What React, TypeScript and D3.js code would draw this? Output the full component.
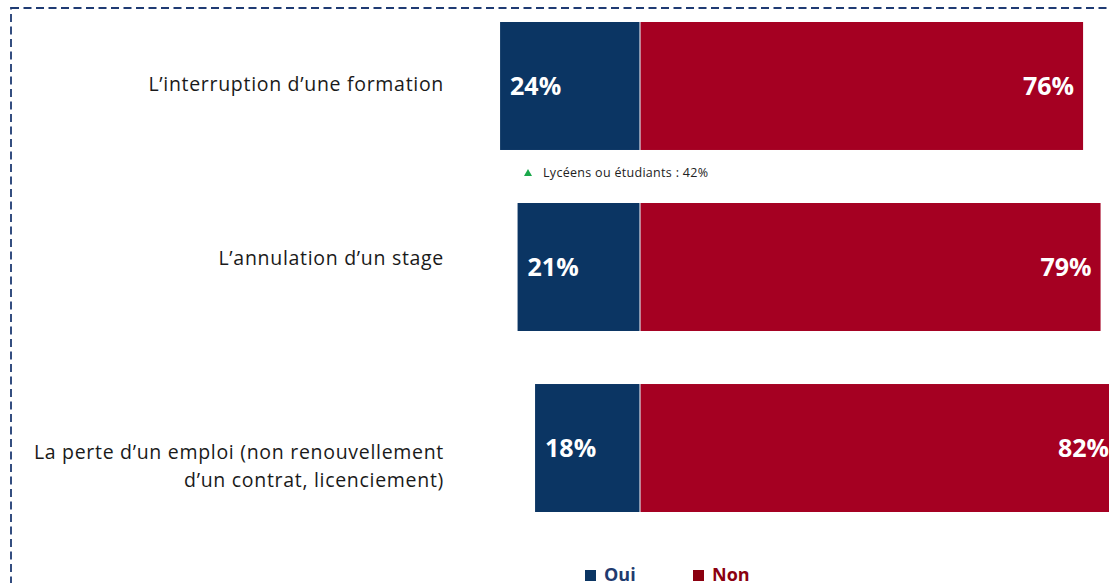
import React from "react";
import * as d3 from "d3";

const categories: string[][] = [
  ["L’interruption d’une formation"],
  ["L’annulation d’un stage"],
  ["La perte d’un emploi (non renouvellement", "d’un contrat, licenciement)"],
];
const oui: number[] = [24, 21, 18];
const non: number[] = [76, 79, 82];
const seriesNames: string[] = ["Oui", "Non"];
const noteText = "Lycéens ou étudiants : 42%";

const W = 1109;
const H = 583;
const NAVY = "#0b3563";
const RED = "#a50022";

export default function App() {
  const anchor = 640;
  const x = d3.scaleLinear().domain([0, 100]).range([0, 583]);
  const y = d3
    .scaleBand<number>()
    .domain(d3.range(categories.length))
    .range([22, 512])
    .paddingInner(0.293)
    .paddingOuter(0);
  const bw = y.bandwidth();
  const labelOffsets = [-2, -9, 18];
  const font = "'Open Sans', sans-serif";

  return (
    <svg
      width={W}
      height={H}
      style={{ position: "absolute", left: 0, top: 0, background: "#fff" }}
      fontFamily={font}
    >
      <rect
        x={11}
        y={8}
        width={W + 20}
        height={H + 20}
        fill="none"
        stroke="#1f3b73"
        strokeWidth={1.8}
        strokeDasharray="8,4.5"
      />
      {categories.map((lines, i) => {
        const y0 = y(i)!;
        const cy = y0 + bw / 2;
        const xl = anchor - x(oui[i]);
        const xr = anchor + x(non[i]);
        const lh = 28;
        const ly = cy + labelOffsets[i] - ((lines.length - 1) * lh) / 2;
        return (
          <g key={i}>
            <rect x={xl} y={y0} width={x(oui[i])} height={bw} fill={NAVY} />
            <rect x={anchor} y={y0} width={x(non[i])} height={bw} fill={RED} />
            <line x1={anchor} x2={anchor} y1={y0} y2={y0 + bw} stroke="#d9d9e3" strokeWidth={1.2} />
            <text x={xl + 10} y={cy} dy="0.36em" fill="#fff" fontWeight={700} fontSize={25}>
              {oui[i]}%
            </text>
            <text x={xr - 9} y={cy} dy="0.36em" fill="#fff" fontWeight={700} fontSize={25} textAnchor="end">
              {non[i]}%
            </text>
            {lines.map((t, j) => (
              <text
                key={j}
                x={444}
                y={ly + j * lh}
                dy="0.35em"
                textAnchor="end"
                fontSize={19.5}
                letterSpacing={0.7}
                fill="#1a1a1a"
              >
                {t}
              </text>
            ))}
          </g>
        );
      })}
      <path d="M524,176 L528,169 L532,176 Z" fill="#1aa84a" />
      <text x={543} y={173} dy="0.35em" fontSize={12.5} letterSpacing={0.3} fill="#222">
        {noteText}
      </text>
      <g fontWeight={700} fontSize={18}>
        <rect x={585} y={570} width={11} height={11} fill={NAVY} />
        <text x={604} y={581} fill="#1f3b6f">
          {seriesNames[0]}
        </text>
        <rect x={693} y={570} width={11} height={11} fill="#8b0010" />
        <text x={712} y={581} fill="#8b0010">
          {seriesNames[1]}
        </text>
      </g>
    </svg>
  );
}
